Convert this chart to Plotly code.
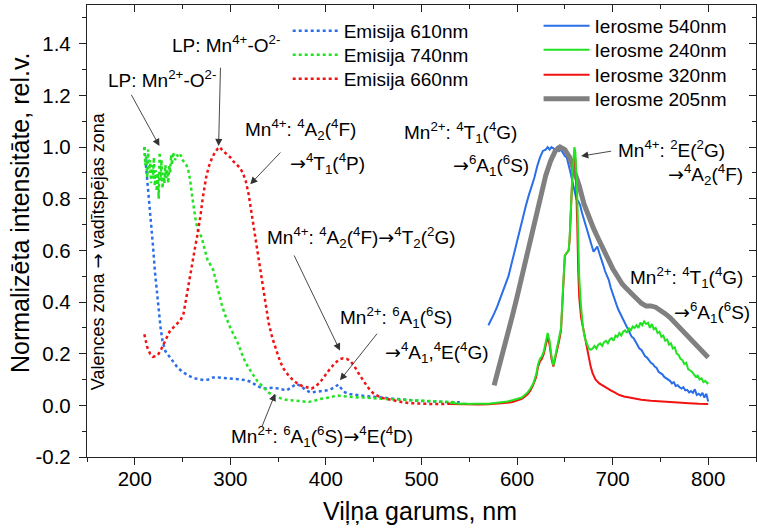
import plotly.graph_objects as go

# ---------------- data ----------------
em610_x = [210, 211, 212, 213, 215, 217, 219, 221, 223, 225, 227, 229, 232, 236, 240, 245, 250, 256, 262, 268,
           272, 277, 282, 288, 295, 302, 310, 316, 322, 328, 334, 340, 345, 350, 355, 359, 364, 369, 374, 379,
           384, 390, 396, 401, 406, 410, 413, 416, 420, 425, 430, 436, 442, 450, 460, 470, 480, 490, 500, 510,
           520, 530, 540]
em610_y = [1.0, 0.96, 0.91, 0.86, 0.78, 0.69, 0.62, 0.52, 0.44, 0.36, 0.30, 0.25, 0.21, 0.19, 0.17, 0.145, 0.13, 0.115, 0.105, 0.10,
           0.098, 0.10, 0.108, 0.108, 0.106, 0.104, 0.10, 0.098, 0.09, 0.075, 0.065, 0.066, 0.068, 0.065, 0.06, 0.058, 0.07, 0.083, 0.075, 0.058,
           0.05, 0.052, 0.055, 0.058, 0.064, 0.072, 0.08, 0.065, 0.05, 0.044, 0.04, 0.038, 0.036, 0.034, 0.03, 0.026, 0.022, 0.02, 0.017, 0.015,
           0.013, 0.012, 0.012]

em740_x = [210, 211, 212, 213, 214, 215, 216, 217, 218, 219, 220, 221, 222, 223, 224, 225, 226, 227, 228, 229,
           230, 231, 232, 233, 234, 235, 236, 237, 238, 239, 240, 242, 244, 246, 248, 250, 252, 254, 256, 258,
           260, 262, 264, 266, 268, 270, 272, 274, 276, 279, 282, 285, 288, 291, 294, 297, 300, 304, 308, 312,
           316, 320, 324, 328, 332, 336, 340, 344, 348, 352, 358, 364, 370, 376, 382, 388, 394, 400, 406, 412,
           418, 424, 430, 436, 442, 448, 455, 465, 475, 485, 495, 505, 515, 525, 535]
em740_y = [1.0, 0.93, 0.97, 0.88, 0.99, 0.90, 0.95, 0.86, 0.93, 0.88, 0.96, 0.85, 0.91, 0.83, 0.90, 0.80, 0.98, 0.87, 0.95, 0.84,
           0.90, 0.86, 0.93, 0.88, 0.91, 0.86, 0.93, 0.90, 0.97, 0.93, 0.98, 0.95, 0.97, 0.96, 0.97, 0.95, 0.94, 0.93, 0.91, 0.87,
           0.81, 0.76, 0.71, 0.68, 0.665, 0.65, 0.62, 0.59, 0.565, 0.545, 0.525, 0.48, 0.43, 0.39, 0.355, 0.325, 0.30, 0.27, 0.24, 0.20,
           0.165, 0.14, 0.115, 0.095, 0.08, 0.065, 0.05, 0.04, 0.033, 0.028, 0.022, 0.02, 0.018, 0.015, 0.013, 0.018, 0.025, 0.028, 0.032, 0.038,
           0.035, 0.033, 0.032, 0.03, 0.03, 0.027, 0.026, 0.024, 0.022, 0.02, 0.018, 0.016, 0.014, 0.013, 0.012]

em660_x = [210, 213, 216, 219, 222, 225, 228, 231, 234, 237, 240, 244, 248, 251, 253, 255, 257, 259, 261, 263,
           265, 267, 269, 271, 273, 275, 278, 281, 284, 287, 289, 291, 294, 297, 300, 303, 307, 310, 313, 316,
           319, 322, 325, 328, 331, 334, 337, 340, 344, 348, 352, 356, 360, 365, 370, 375, 380, 385, 390, 395,
           400, 405, 410, 414, 418, 422, 426, 430, 434, 438, 442, 446, 450, 455, 460, 470, 480, 490, 500, 510,
           520, 530]
em660_y = [0.275, 0.225, 0.2, 0.188, 0.19, 0.2, 0.22, 0.245, 0.27, 0.29, 0.30, 0.315, 0.33, 0.355, 0.40, 0.44, 0.49, 0.53, 0.57, 0.61,
           0.65, 0.69, 0.74, 0.80, 0.85, 0.89, 0.93, 0.96, 0.98, 0.995, 1.0, 0.99, 0.98, 0.97, 0.96, 0.945, 0.93, 0.92, 0.90, 0.87,
           0.82, 0.75, 0.68, 0.61, 0.54, 0.47, 0.39, 0.32, 0.26, 0.21, 0.17, 0.14, 0.12, 0.10, 0.085, 0.075, 0.07, 0.065, 0.075, 0.095,
           0.12, 0.145, 0.165, 0.178, 0.182, 0.18, 0.17, 0.15, 0.125, 0.10, 0.08, 0.06, 0.045, 0.035, 0.028, 0.02, 0.012, 0.008, 0.006, 0.005,
           0.005, 0.006]

ex540_x = [570, 573, 576, 579, 582, 585, 588, 591, 594, 597, 600, 603, 606, 609, 612, 615, 618, 621, 624, 627,
           630, 632, 634, 636, 638, 640, 642, 644, 646, 648, 650, 652, 654, 656, 658, 660, 662, 664, 666, 668,
           670, 672, 674, 676, 678, 680, 682, 684, 686, 688, 690, 692, 694, 696, 698, 700, 702, 704, 706, 708,
           710, 712, 714, 716, 718, 720, 722, 724, 726, 728, 730, 732, 734, 736, 738, 740, 742, 744, 746, 748,
           750, 752, 754, 756, 758, 760, 762, 764, 766, 768, 770, 772, 774, 776, 778, 780, 782, 784, 786, 788,
           790, 792, 794, 796, 798, 800]
ex540_y = [0.31, 0.33, 0.355, 0.38, 0.41, 0.44, 0.47, 0.50, 0.545, 0.59, 0.635, 0.69, 0.735, 0.77, 0.81, 0.845, 0.88, 0.925, 0.96, 0.985,
           0.99, 1.0, 0.99, 1.0, 0.995, 0.99, 1.0, 0.985, 0.99, 0.975, 0.965, 0.96, 0.935, 0.90, 0.865, 0.83, 0.80, 0.79, 0.775, 0.745,
           0.72, 0.70, 0.67, 0.64, 0.615, 0.595, 0.605, 0.615, 0.59, 0.57, 0.545, 0.52, 0.505, 0.485, 0.455, 0.43, 0.41, 0.39, 0.37, 0.355,
           0.335, 0.32, 0.305, 0.29, 0.28, 0.265, 0.26, 0.245, 0.235, 0.22, 0.215, 0.20, 0.19, 0.185, 0.175, 0.165, 0.16, 0.15, 0.145, 0.13,
           0.125, 0.12, 0.11, 0.105, 0.10, 0.095, 0.085, 0.09, 0.075, 0.078, 0.07, 0.065, 0.07, 0.058, 0.06, 0.05, 0.055, 0.048, 0.062, 0.04,
           0.045, 0.038, 0.048, 0.03, 0.045, 0.015]

ex240_x = [530, 535, 540, 545, 550, 555, 560, 565, 570, 575, 580, 585, 590, 595, 600, 605, 608, 611, 614, 617,
           620, 622, 624, 626, 628, 630, 632, 634, 636, 638, 640, 642, 644, 646, 648, 650, 652, 654, 655, 656,
           657, 658, 659, 660, 661, 662, 663, 664, 665, 667, 669, 671, 673, 675, 677, 679, 681, 683, 685, 687,
           689, 691, 693, 695, 697, 699, 701, 703, 705, 707, 709, 711, 713, 715, 717, 719, 721, 723, 725, 727,
           729, 731, 733, 735, 737, 739, 741, 743, 745, 747, 749, 751, 753, 755, 757, 759, 761, 763, 765, 767,
           769, 771, 773, 775, 777, 779, 781, 783, 785, 787, 789, 791, 793, 795, 797, 799, 800]
ex240_y = [0.01, 0.008, 0.006, 0.007, 0.005, 0.006, 0.005, 0.006, 0.006, 0.008, 0.01, 0.012, 0.015, 0.02, 0.025, 0.03, 0.04, 0.05, 0.065, 0.085,
           0.12, 0.16, 0.18, 0.19, 0.21, 0.25, 0.28, 0.25, 0.19, 0.155, 0.19, 0.23, 0.26, 0.30, 0.45, 0.58, 0.59, 0.60, 0.65, 0.75,
           0.85, 0.90, 0.95, 1.0, 0.98, 0.90, 0.80, 0.65, 0.50, 0.38, 0.30, 0.26, 0.235, 0.22, 0.215, 0.22, 0.23, 0.22, 0.235, 0.24,
           0.23, 0.245, 0.25, 0.24, 0.255, 0.26, 0.25, 0.27, 0.265, 0.28, 0.27, 0.285, 0.29, 0.28, 0.30, 0.29, 0.305, 0.30, 0.31, 0.30,
           0.32, 0.31, 0.325, 0.315, 0.32, 0.30, 0.315, 0.295, 0.30, 0.28, 0.285, 0.265, 0.27, 0.25, 0.255, 0.235, 0.24, 0.22, 0.225, 0.20,
           0.195, 0.18, 0.175, 0.16, 0.165, 0.14, 0.135, 0.13, 0.12, 0.11, 0.115, 0.10, 0.105, 0.09, 0.095, 0.085, 0.09]

ex320_x = [530, 540, 550, 560, 570, 580, 590, 595, 600, 605, 608, 611, 614, 617, 620, 622, 624, 626, 628, 630,
           632, 634, 636, 638, 640, 642, 644, 646, 648, 650, 652, 654, 655, 656, 657, 658, 659, 660, 661, 662,
           663, 664, 665, 667, 669, 671, 673, 675, 677, 679, 682, 686, 690, 694, 698, 702, 707, 712, 720, 730,
           740, 750, 760, 770, 780, 790, 800]
ex320_y = [0.005, 0.004, 0.003, 0.003, 0.004, 0.006, 0.01, 0.013, 0.018, 0.025, 0.033, 0.043, 0.058, 0.08, 0.11, 0.15, 0.17, 0.18, 0.20, 0.24,
           0.265, 0.235, 0.18, 0.15, 0.18, 0.22, 0.25, 0.29, 0.44, 0.58, 0.59, 0.60, 0.64, 0.74, 0.84, 0.90, 0.94, 0.98, 0.95, 0.85,
           0.70, 0.52, 0.42, 0.34, 0.30, 0.27, 0.23, 0.19, 0.15, 0.125, 0.10, 0.085, 0.075, 0.068, 0.058, 0.05, 0.04, 0.034, 0.028, 0.022,
           0.018, 0.015, 0.012, 0.01, 0.008, 0.006, 0.005]

ex205_x = [576, 580, 585, 590, 595, 600, 605, 610, 615, 620, 625, 630, 635, 640, 645, 650, 655, 660, 665, 670,
           675, 680, 685, 690, 695, 700, 705, 710, 715, 720, 725, 730, 735, 740, 745, 750, 755, 760, 765, 770,
           775, 780, 785, 790, 795, 800]
ex205_y = [0.077, 0.13, 0.20, 0.27, 0.345, 0.42, 0.50, 0.58, 0.66, 0.74, 0.82, 0.89, 0.945, 0.985, 1.0, 0.99, 0.96, 0.91, 0.85, 0.78,
           0.73, 0.685, 0.645, 0.605, 0.565, 0.53, 0.50, 0.47, 0.45, 0.43, 0.41, 0.395, 0.385, 0.385, 0.38, 0.37, 0.355, 0.34, 0.32, 0.30,
           0.28, 0.26, 0.24, 0.22, 0.20, 0.185]

x_ticks = [200, 300, 400, 500, 600, 700, 800]
y_ticks = [-0.2, 0.0, 0.2, 0.4, 0.6, 0.8, 1.0, 1.2, 1.4]
x_range = [150, 850]
y_range = [-0.2, 1.55]

BLUE = "#2a6ee8"
GREEN = "#22e322"
RED = "#f21212"
GREY = "#808080"
FONT = "Arial, 'Liberation Sans', sans-serif"
ARR = "<span style=\"font-family:'DejaVu Sans'\">→</span>"

fig = go.Figure()

# dotted curves (one legend box per entry for exact row placement)
fig.add_trace(go.Scatter(x=em610_x, y=em610_y, mode="lines", name="Emisija 610nm",
                         line=dict(color=BLUE, width=2.5, dash="dot"), legend="legend"))
fig.add_trace(go.Scatter(x=em740_x, y=em740_y, mode="lines", name="Emisija 740nm",
                         line=dict(color=GREEN, width=2.5, dash="dot"), legend="legend2"))
fig.add_trace(go.Scatter(x=em660_x, y=em660_y, mode="lines", name="Emisija 660nm",
                         line=dict(color=RED, width=2.5, dash="dot"), legend="legend3"))

# solid curves
fig.add_trace(go.Scatter(x=ex540_x, y=ex540_y, mode="lines", name="Ierosme 540nm",
                         line=dict(color=BLUE, width=2), legend="legend4"))
fig.add_trace(go.Scatter(x=ex205_x, y=ex205_y, mode="lines", name="Ierosme 205nm",
                         line=dict(color=GREY, width=5), legend="legend7"))
fig.add_trace(go.Scatter(x=ex320_x, y=ex320_y, mode="lines", name="Ierosme 320nm",
                         line=dict(color=RED, width=2), legend="legend6"))
fig.add_trace(go.Scatter(x=ex240_x, y=ex240_y, mode="lines", name="Ierosme 240nm",
                         line=dict(color=GREEN, width=2), legend="legend5"))

# dummy trace so the mirrored frame axes are drawn
fig.add_trace(go.Scatter(x=[None], y=[None], xaxis="x2", yaxis="y2", showlegend=False, hoverinfo="skip"))

AX = dict(showgrid=False, zeroline=False, showline=True, linecolor="#222", linewidth=1.3)


def leg(x, y):
    return dict(x=x, y=y, xanchor="left", yanchor="middle", bgcolor="rgba(0,0,0,0)",
                font=dict(size=19), itemwidth=46)


fig.update_layout(
    width=757, height=531,
    margin=dict(l=87, r=1, t=5, b=74),
    paper_bgcolor="white", plot_bgcolor="white",
    font=dict(family=FONT, size=19, color="black"),
    showlegend=True,
    xaxis=dict(range=x_range, tickvals=x_ticks, ticks="outside", ticklen=7, tickwidth=1.2, tickcolor="#222",
               tickfont=dict(size=20.5), ticklabelstandoff=-4,
               minor=dict(dtick=50, tick0=0, ticks="outside", ticklen=4, tickcolor="#222"), **AX),
    yaxis=dict(range=y_range, tickvals=y_ticks, ticktext=[f"{v:.1f}" for v in y_ticks], ticks="outside",
               ticklen=7, tickwidth=1.2, tickcolor="#222", tickfont=dict(size=20.5), ticklabelstandoff=4,
               minor=dict(dtick=0.1, tick0=0, ticks="outside", ticklen=4, tickcolor="#222"), **AX),
    xaxis2=dict(range=x_range, overlaying="x", side="top", anchor="y", tickvals=x_ticks, ticks="inside",
                ticklen=7, tickcolor="#222", showticklabels=False,
                minor=dict(dtick=50, tick0=0, ticks="inside", ticklen=4, tickcolor="#222"), **AX),
    yaxis2=dict(range=y_range, overlaying="y", side="right", anchor="x", tickvals=y_ticks, ticks="inside",
                ticklen=7, tickcolor="#222", showticklabels=False,
                minor=dict(dtick=0.1, tick0=0, ticks="inside", ticklen=4, tickcolor="#222"), **AX),
    legend=leg(0.30, 0.9425),
    legend2=leg(0.30, 0.8894),
    legend3=leg(0.30, 0.8363),
    legend4=leg(0.675, 0.9535),
    legend5=leg(0.675, 0.9004),
    legend6=leg(0.675, 0.8451),
    legend7=leg(0.675, 0.7920),
)

# axis titles as annotations
fig.add_annotation(text="Viļņa garums, nm", xref="paper", yref="paper", x=0.498, y=-0.119,
                   xanchor="center", yanchor="middle", showarrow=False, font=dict(size=25))
fig.add_annotation(text="Normalizēta intensitāte, rel.v.", xref="paper", yref="paper", x=-0.1, y=0.54,
                   xanchor="center", yanchor="middle", textangle=-90, showarrow=False, font=dict(size=25))
fig.add_annotation(text="Valences zona " + ARR + " vadītspējas zona", x=161, y=0.595, textangle=-90,
                   xanchor="center", yanchor="middle", showarrow=False, font=dict(size=18))

# text labels (left-anchored, vertically centred)
labels = [
    ("LP: Mn<sup>2+</sup>-O<sup>2-</sup>", 169.5, 1.263),
    ("LP: Mn<sup>4+</sup>-O<sup>2-</sup>", 237.3, 1.398),
    ("Mn<sup>4+</sup>: <sup>4</sup>A<sub>2</sub>(<sup>4</sup>F)", 313.5, 1.069),
    (ARR + "<sup>4</sup>T<sub>1</sub>(<sup>4</sup>P)", 360.4, 0.938),
    ("Mn<sup>4+</sup>: <sup>4</sup>A<sub>2</sub>(<sup>4</sup>F)" + ARR + "<sup>4</sup>T<sub>2</sub>(<sup>2</sup>G)", 336.4, 0.65),
    ("Mn<sup>2+</sup>: <sup>6</sup>A<sub>1</sub>(<sup>6</sup>S)", 412.6, 0.341),
    ("Mn<sup>2+</sup>: <sup>6</sup>A<sub>1</sub>(<sup>6</sup>S)" + ARR + "<sup>4</sup>E(<sup>4</sup>D)", 298.9, -0.122),
    ("Mn<sup>2+</sup>: <sup>4</sup>T<sub>1</sub>(<sup>4</sup>G)", 479.1, 1.055),
    (ARR + "<sup>6</sup>A<sub>1</sub>(<sup>6</sup>S)", 531.3, 0.927),
    ("Mn<sup>4+</sup>: <sup>2</sup>E(<sup>2</sup>G)", 703.6, 0.991),
    (ARR + "<sup>4</sup>A<sub>2</sub>(<sup>4</sup>F)", 755.8, 0.895),
    ("Mn<sup>2+</sup>: <sup>4</sup>T<sub>1</sub>(<sup>4</sup>G)", 715.7, 0.495),
    (ARR + "<sup>6</sup>A<sub>1</sub>(<sup>6</sup>S)", 762.6, 0.36),
]
for t, x, y in labels:
    fig.add_annotation(text=t, x=x, y=y, xanchor="left", yanchor="middle", showarrow=False, font=dict(size=19))

# right-anchored label
fig.add_annotation(text=ARR + "<sup>4</sup>A<sub>1</sub>,<sup>4</sup>E(<sup>4</sup>G)", x=573.0, y=0.205,
                   xanchor="right", yanchor="middle", showarrow=False, font=dict(size=19))

# arrows: (tail x, tail y, head x, head y)
arrows = [
    (195.5, 1.208, 225.8, 1.004),
    (289.7, 1.313, 287.7, 1.004),
    (353.9, 0.985, 320.8, 0.856),
    (366.0, 0.586, 414.7, 0.212),
    (454.7, 0.283, 414.7, 0.097),
    (332.3, -0.089, 346.9, 0.045),
    (700.0, 0.985, 667.0, 0.965),
]
for tx, ty, hx, hy in arrows:
    fig.add_annotation(x=hx, y=hy, ax=tx, ay=ty, axref="x", ayref="y", text="", showarrow=True,
                       arrowhead=2, arrowsize=1.6, arrowwidth=0.9, arrowcolor="#333", standoff=0)

fig.write_html("out.html")
